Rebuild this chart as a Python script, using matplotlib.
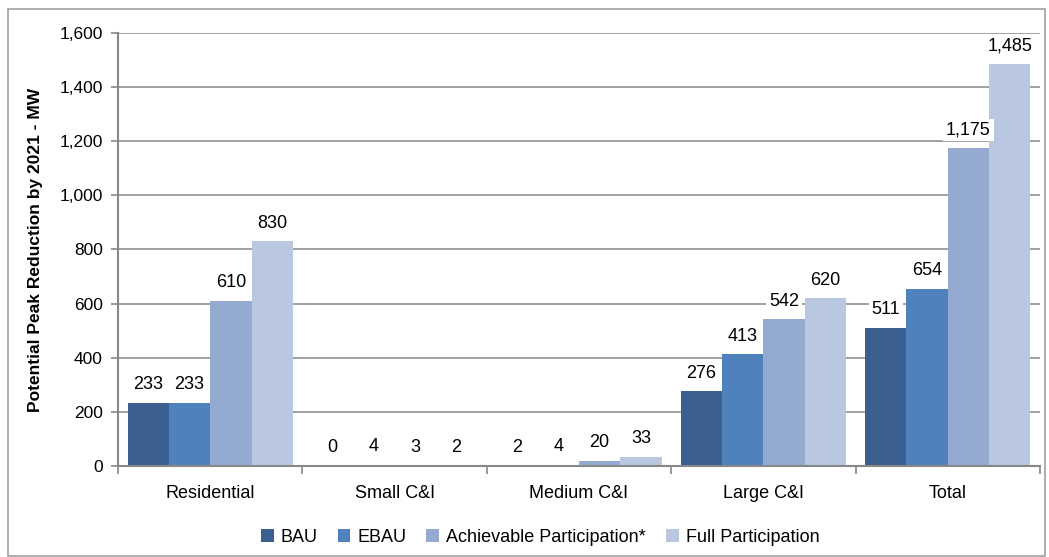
#!/usr/bin/env python3
"""
Grouped bar chart: potential peak reduction by 2021 per customer segment
"""
import numpy as np
import matplotlib
matplotlib.use('Agg')
import matplotlib.pyplot as plt
from matplotlib.patches import Rectangle

plt.rcParams['font.family'] = ['Liberation Sans', 'DejaVu Sans']

categories = ['Residential', 'Small C&I', 'Medium C&I', 'Large C&I', 'Total']
series_names = ['BAU', 'EBAU', 'Achievable Participation*', 'Full Participation']
bau = [233, 0, 2, 276, 511]
ebau = [233, 4, 4, 413, 654]
achievable = [610, 3, 20, 542, 1175]
full = [830, 2, 33, 620, 1485]
yticks = [0, 200, 400, 600, 800, 1000, 1200, 1400, 1600]

colors = ['#3b5f8e', '#4f81bd', '#94aad1', '#b9c7e1']
grid_color = '#888888'

fig = plt.figure(figsize=(10.49, 5.57), dpi=100)
ax = fig.add_axes([118 / 1049, 0.1634, 922 / 1049, 0.7774])

x = np.arange(len(categories))
width = 0.224
all_series = [bau, ebau, achievable, full]
for i, (vals, name, col) in enumerate(zip(all_series, series_names, colors)):
    pos = x + (i - 1.5) * width
    ax.bar(pos, vals, width=width, color=col, label=name, zorder=2)
    for px, v in zip(pos, vals):
        ax.annotate(f'{v:,}', xy=(px, v), xytext=(0, 13), textcoords='offset points',
                    ha='center', va='center', fontsize=13, zorder=4,
                    annotation_clip=False,
                    bbox=dict(boxstyle='square,pad=0.15', fc='white', ec='none'))

ax.set_xlim(-0.5, len(categories) - 0.5)
ax.set_ylim(0, 1600)
ax.set_yticks(yticks)
ax.set_yticklabels([f'{t:,}' for t in yticks], fontsize=12.5)
ax.yaxis.grid(True, color=grid_color, linewidth=1.1, zorder=0)
ax.set_axisbelow(True)

# category labels centred, tick marks between groups
ax.set_xticks(x)
ax.set_xticklabels(categories, fontsize=13)
ax.tick_params(axis='x', length=0, pad=14)
ax.set_xticks(np.arange(-0.5, len(categories)), minor=True)
ax.tick_params(axis='x', which='minor', length=6, color=grid_color, width=1.2)
ax.tick_params(axis='y', length=5, color=grid_color, width=1.2, pad=6)

for side in ['top', 'right']:
    ax.spines[side].set_visible(False)
for side in ['left', 'bottom']:
    ax.spines[side].set_color(grid_color)
    ax.spines[side].set_linewidth(1.5)

ax.set_ylabel('Potential Peak Reduction by 2021 - MW', fontsize=12.5,
              fontweight='bold', labelpad=12)

ax.legend(loc='center', bbox_to_anchor=(0.515, 0.035), bbox_transform=fig.transFigure,
          ncol=4, frameon=False, fontsize=13, handlelength=0.7, handleheight=0.7,
          handletextpad=0.4, columnspacing=1.1)

# light frame around the whole chart
fig.patches.append(Rectangle((8 / 1049, 1 / 557), 1037 / 1049, 547 / 557,
                             transform=fig.transFigure, fill=False,
                             edgecolor='#a0a0a0', linewidth=1.2))

fig.savefig('out.png', dpi=100)
